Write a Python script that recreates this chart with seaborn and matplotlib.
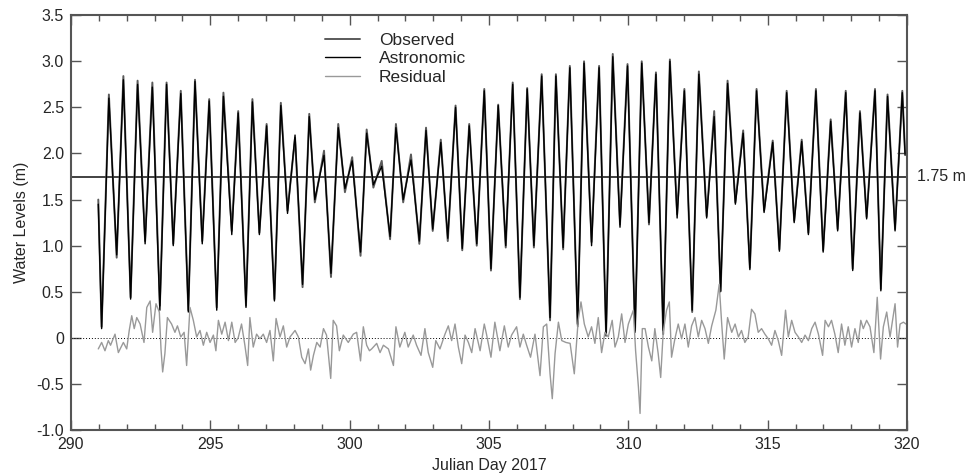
import matplotlib
matplotlib.use("Agg")
import matplotlib.pyplot as plt
from matplotlib.ticker import MultipleLocator, FuncFormatter
import seaborn as sns
import pandas as pd

# high / low water times (julian day) and levels (m)
obs_days = [290.98, 291.10, 291.36, 291.64, 291.88, 292.14, 292.39, 292.66, 292.92, 293.19,
            293.43, 293.67, 293.94, 294.21, 294.45, 294.71, 294.96, 295.23, 295.47, 295.77,
            296.00, 296.28, 296.51, 296.76, 297.02, 297.30, 297.53, 297.77, 298.04, 298.31,
            298.55, 298.75, 299.08, 299.33, 299.59, 299.83, 300.09, 300.39, 300.61,
            300.85, 301.15, 301.45, 301.66, 301.92, 302.20, 302.50, 302.74, 302.98, 303.27,
            303.52, 303.80, 304.04, 304.29, 304.56, 304.83, 305.07, 305.33,
            305.60, 305.85, 306.11, 306.37, 306.61, 306.89, 307.19, 307.40, 307.66, 307.90,
            308.18, 308.41, 308.68, 308.95, 309.20, 309.44, 309.70, 309.97, 310.24,
            310.48, 310.74, 310.99, 311.25, 311.49, 311.75, 312.01, 312.29, 312.53, 312.81,
            313.08, 313.31, 313.56, 313.84, 314.12, 314.36, 314.60, 314.87, 315.18,
            315.42, 315.68, 315.95, 316.22, 316.46, 316.73, 316.99, 317.26, 317.51, 317.80,
            318.05, 318.31, 318.55, 318.85, 319.06, 319.30, 319.57, 319.83, 319.93]

obs_levels = [1.50, 0.12, 2.64, 0.87, 2.84, 0.44, 2.79, 1.05, 2.77, 0.35,
              2.77, 1.02, 2.68, 0.30, 2.80, 1.05, 2.59, 0.33, 2.66, 1.16,
              2.46, 0.35, 2.59, 1.14, 2.32, 0.42, 2.55, 1.38, 2.17, 0.55,
              2.43, 1.47, 2.03, 0.66, 2.32, 1.58, 1.96, 0.89, 2.26,
              1.63, 1.92, 1.07, 2.32, 1.47, 1.99, 1.02, 2.28, 1.16, 2.15,
              1.05, 2.52, 0.95, 2.32, 1.00, 2.70, 0.73, 2.53,
              0.98, 2.77, 0.42, 2.71, 0.98, 2.86, 0.19, 2.86, 0.96, 2.95,
              0.15, 3.00, 1.04, 2.95, 0.04, 3.08, 1.23, 2.97, 0.08,
              3.00, 1.23, 2.88, 0.04, 3.02, 1.34, 2.70, 0.28, 2.89, 1.32,
              2.46, 0.51, 2.79, 1.47, 2.25, 0.76, 2.70, 1.38, 2.14,
              0.96, 2.68, 1.27, 2.15, 1.14, 2.70, 0.95, 2.37, 1.18, 2.68,
              0.75, 2.46, 1.31, 2.70, 0.53, 2.64, 1.18, 2.68, 2.00]

astro_levels = [1.45, 0.10, 2.60, 0.90, 2.80, 0.42, 2.75, 1.02, 2.72, 0.30,
                2.75, 1.00, 2.65, 0.28, 2.78, 1.02, 2.57, 0.30, 2.62, 1.12,
                2.44, 0.33, 2.56, 1.12, 2.30, 0.40, 2.52, 1.35, 2.20, 0.58,
                2.40, 1.50, 1.98, 0.70, 2.28, 1.62, 1.92, 0.93, 2.22,
                1.66, 1.86, 1.10, 2.28, 1.50, 1.93, 1.05, 2.25, 1.18, 2.12,
                1.08, 2.50, 0.97, 2.30, 1.02, 2.68, 0.75, 2.52,
                1.00, 2.75, 0.44, 2.70, 1.00, 2.84, 0.22, 2.84, 0.98, 2.93,
                0.12, 2.98, 1.00, 2.93, 0.02, 3.05, 1.20, 2.95, 0.06,
                2.98, 1.25, 2.86, 0.08, 3.00, 1.30, 2.68, 0.30, 2.86, 1.30,
                2.40, 0.50, 2.76, 1.45, 2.22, 0.74, 2.68, 1.36, 2.12,
                0.94, 2.66, 1.25, 2.13, 1.12, 2.68, 0.93, 2.35, 1.16, 2.66,
                0.73, 2.44, 1.29, 2.68, 0.51, 2.62, 1.16, 2.66, 1.98]

res_days = [290.98, 291.10, 291.22, 291.34, 291.42, 291.58, 291.70, 291.88, 292.00, 292.09,
            292.18, 292.27, 292.36, 292.48, 292.62, 292.72, 292.84, 292.93, 293.05, 293.17,
            293.23, 293.29, 293.37, 293.46, 293.61, 293.73, 293.82, 293.94, 294.06, 294.15,
            294.27, 294.39, 294.51, 294.63, 294.75, 294.87, 294.99, 295.11, 295.20, 295.29,
            295.41, 295.53, 295.65, 295.77, 295.89, 296.00, 296.12, 296.24, 296.34, 296.42,
            296.54, 296.66, 296.78, 296.90, 297.02, 297.14, 297.26, 297.36, 297.50, 297.62,
            297.74, 297.86, 298.04, 298.16, 298.28, 298.40, 298.52, 298.60, 298.70, 298.82,
            298.94, 299.06, 299.17, 299.32, 299.41, 299.53, 299.63, 299.77, 299.95, 300.13,
            300.25, 300.39, 300.49, 300.61, 300.71,
            300.79, 300.97, 301.09, 301.21, 301.39, 301.57, 301.66, 301.80, 301.98, 302.10,
            302.28, 302.40, 302.56, 302.70, 302.82, 302.98, 303.09, 303.24, 303.42, 303.54,
            303.66, 303.78, 303.90, 304.02, 304.14, 304.26, 304.38, 304.50, 304.68, 304.83,
            304.91, 305.07, 305.21, 305.39, 305.55, 305.69, 305.81, 305.99, 306.11, 306.23,
            306.35, 306.49, 306.65, 306.83, 306.95, 307.07, 307.19, 307.27, 307.37, 307.49,
            307.61, 307.76, 307.91, 308.06, 308.20, 308.30, 308.42, 308.56, 308.68, 308.80,
            308.92, 309.04, 309.16, 309.28, 309.42, 309.52, 309.64, 309.76, 309.88, 310.00,
            310.18, 310.26, 310.36, 310.42, 310.50,
            310.60, 310.72, 310.84, 310.95, 311.07, 311.16, 311.25, 311.37, 311.47, 311.55,
            311.67, 311.79, 311.91, 312.03, 312.15, 312.27, 312.39, 312.51, 312.63, 312.75,
            312.87, 312.99, 313.14, 313.26, 313.35, 313.44, 313.56, 313.71, 313.83, 313.95,
            314.06, 314.18, 314.30, 314.42, 314.54, 314.66, 314.78, 314.90, 315.02, 315.14,
            315.26, 315.38, 315.50, 315.64, 315.74, 315.86, 315.98, 316.10, 316.22, 316.34,
            316.46, 316.58, 316.70, 316.82, 316.97, 317.06, 317.18, 317.29, 317.41, 317.53,
            317.65, 317.77, 317.89, 318.01, 318.13, 318.25, 318.34, 318.43, 318.55, 318.67,
            318.81, 318.93, 319.05, 319.15, 319.27, 319.39, 319.57, 319.66, 319.75, 319.87,
            319.96]

res_vals = [-0.12, -0.05, -0.14, -0.03, -0.08, 0.04, -0.16, -0.05, -0.12, 0.08,
            0.24, 0.10, 0.22, 0.15, -0.05, 0.33, 0.40, 0.06, 0.37, 0.28,
            -0.12, -0.37, -0.17, 0.22, 0.15, 0.06, 0.13, 0.01, 0.06, -0.30,
            0.33, 0.19, 0.01, 0.08, -0.08, 0.06, -0.05, 0.03, -0.14, 0.19,
            0.04, 0.17, -0.03, 0.17, -0.05, 0.00, 0.15, -0.08, -0.30, 0.22,
            -0.10, 0.04, -0.01, 0.04, -0.05, 0.08, -0.25, 0.21, 0.01, 0.13,
            -0.10, 0.01, 0.08, 0.01, -0.21, -0.28, -0.12, -0.35, -0.19, -0.05,
            -0.10, 0.10, 0.03, -0.44, 0.19, 0.13, -0.14, 0.03, -0.05, 0.04,
            0.06, -0.25, 0.12, -0.08, -0.14,
            -0.12, -0.06, -0.16, -0.08, -0.12, -0.30, 0.12, -0.10, 0.06, -0.10,
            0.03, -0.08, -0.19, 0.10, -0.16, -0.32, -0.03, -0.12, 0.04, 0.13,
            -0.03, 0.15, -0.10, -0.28, 0.03, -0.05, -0.16, 0.10, -0.14, 0.15,
            0.04, -0.21, 0.17, -0.14, 0.13, -0.10, 0.03, 0.12, -0.10, 0.04,
            -0.08, -0.21, 0.04, -0.41, 0.12, 0.15, -0.39, -0.66, -0.17, 0.17,
            -0.03, -0.05, -0.06, -0.39, 0.19, 0.39, 0.15, 0.01, 0.12, -0.06,
            0.22, -0.16, 0.06, 0.01, 0.19, -0.10, 0.01, 0.26, -0.05, 0.15,
            0.30, -0.14, -0.53, -0.82, 0.10,
            0.10, -0.10, -0.25, 0.10, -0.17, -0.43, 0.06, 0.30, 0.39, -0.21,
            -0.01, 0.15, -0.01, 0.15, -0.10, 0.13, 0.22, 0.01, 0.19, 0.10,
            -0.06, 0.13, 0.30, 0.58, 0.15, -0.23, 0.22, 0.06, 0.15, 0.01,
            0.08, -0.05, 0.01, 0.31, 0.26, 0.06, 0.10, 0.04, -0.01, -0.08,
            0.08, -0.03, -0.19, 0.30, 0.01, 0.19, 0.06, 0.01, -0.05, 0.03,
            -0.03, 0.10, 0.17, 0.04, -0.19, 0.19, 0.12, 0.19, 0.04, -0.16,
            0.15, -0.08, 0.12, -0.10, 0.10, -0.05, 0.19, 0.10, 0.19, 0.12,
            -0.16, 0.44, -0.23, 0.12, 0.28, 0.01, 0.37, -0.10, 0.15, 0.17,
            0.15]

datum = 1.75

tide = pd.DataFrame({"day": obs_days, "observed": obs_levels, "astronomic": astro_levels})
resid = pd.DataFrame({"day": res_days, "residual": res_vals})

sns.set_style("ticks")
plt.rcParams['font.family'] = ['Liberation Sans', 'DejaVu Sans']

fig = plt.figure(figsize=(9.67, 4.76), dpi=100)
ax = fig.add_axes([0.0734, 0.0966, 0.8646, 0.8714])

sns.lineplot(data=tide, x="day", y="observed", ax=ax, color="#5a5a5a", lw=1.4,
             estimator=None, sort=False, label="Observed")
sns.lineplot(data=tide, x="day", y="astronomic", ax=ax, color="black", lw=1.0,
             estimator=None, sort=False, label="Astronomic")
sns.lineplot(data=resid, x="day", y="residual", ax=ax, color="#999999", lw=1.0,
             estimator=None, sort=False, label="Residual")

ax.axhline(datum, color="#333333", lw=1.3, zorder=1)
ax.axhline(0, color="black", lw=0.7, ls=(0, (1, 2)), zorder=1)
ax.text(1.012, datum, "1.75 m", transform=ax.get_yaxis_transform(), va="center",
        ha="left", fontsize=11.5)

ax.set_xlim(290, 320)
ax.set_ylim(-1.0, 3.5)
ax.xaxis.set_major_locator(MultipleLocator(5))
ax.xaxis.set_minor_locator(MultipleLocator(1))
ax.yaxis.set_major_locator(MultipleLocator(0.5))
ax.yaxis.set_major_formatter(FuncFormatter(lambda v, p: "0" if abs(v) < 1e-9 else f"{v:.1f}"))

ax.tick_params(which="both", direction="in", top=True, right=True, labelsize=11.5,
               color="#555555", width=1.0, pad=5)
ax.tick_params(which="major", length=7)
ax.tick_params(which="minor", length=4)
for s in ax.spines.values():
    s.set_color("#555555")
    s.set_linewidth(1.5)

ax.set_xlabel("Julian Day 2017", fontsize=11.5, labelpad=4)
ax.set_ylabel("Water Levels (m)", fontsize=11.5, labelpad=5)

leg = ax.legend(loc="upper left", bbox_to_anchor=(0.285, 0.995), frameon=False,
                fontsize=12.5, handlelength=2.0, handletextpad=1.1, labelspacing=0.18)

fig.savefig("out.png", dpi=100)
